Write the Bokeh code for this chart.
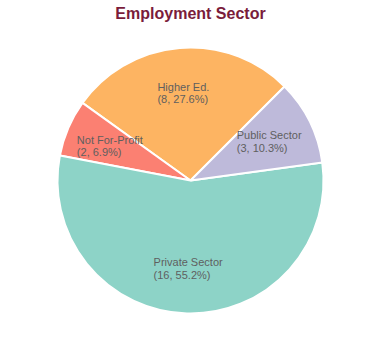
import math
from bokeh.plotting import figure
from bokeh.models import Range1d, ColumnDataSource
from bokeh.core.properties import value
from bokeh.embed import file_html
from bokeh.resources import INLINE

categories = ["Higher Ed.", "Not For-Profit", "Private Sector", "Public Sector"]
counts = [8, 2, 16, 3]
colors = ["#fdb462", "#fb8072", "#8dd3c7", "#bebada"]
title_text = "Employment Sector"

W, H = 364, 344
cx, cy, R = 190, H - 180, 133
start_deg = 45.0

total = sum(counts)
starts, ends, lx, ly, labels = [], [], [], [], []
a = math.radians(start_deg)
for c, n in zip(categories, counts):
    span = 2 * math.pi * n / total
    starts.append(a)
    ends.append(a + span)
    mid = a + span / 2
    lx.append(cx + 0.66 * R * math.cos(mid))
    ly.append(cy + 0.66 * R * math.sin(mid))
    labels.append(f"{c}\n({n}, {100 * n / total:.1f}%)")
    a += span

src = ColumnDataSource(dict(start=starts, end=ends, color=colors,
                            lx=lx, ly=ly, label=labels))

p = figure(width=W, height=H, output_backend="svg", toolbar_location=None,
           x_range=Range1d(0, W), y_range=Range1d(0, H), min_border=0)
p.axis.visible = False
p.grid.visible = False
p.outline_line_color = None

p.wedge(x=cx, y=cy, radius=R, start_angle="start", end_angle="end",
        fill_color="color", line_color="white", line_width=2, source=src)

p.text(x="lx", y="ly", text="label", source=src,
       text_font=value("Liberation Sans"), text_font_size="11px",
       text_color="#5f5f5f", text_align="left", anchor=value("center"),
       text_line_height=1.05)

p.text(x=[190], y=[H - 13], text=[title_text],
       text_font=value("Liberation Sans"), text_font_size="16px",
       text_font_style="bold", text_color="#7a1c3b",
       text_align="center", text_baseline="middle")

open("out.html", "w").write(file_html(p, INLINE))
